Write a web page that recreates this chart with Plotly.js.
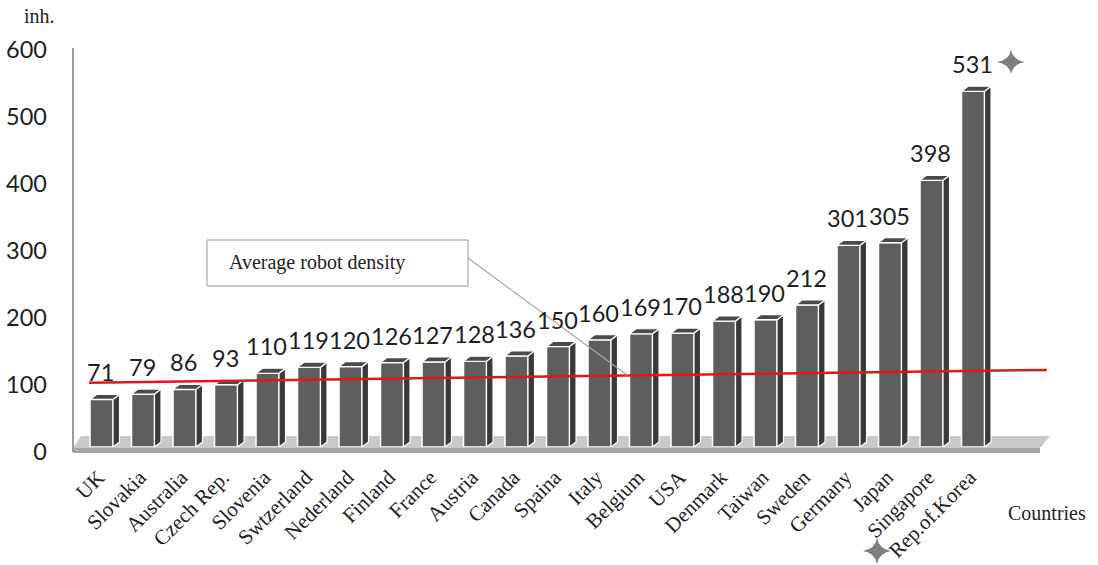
<!DOCTYPE html>
<html>
<head>
<meta charset="utf-8">
<script src="https://cdn.plot.ly/plotly-3.0.1.min.js"></script>
<style>
  html, body { margin: 0; padding: 0; background: #ffffff; }
  #chart { width: 1098px; height: 565px; }
</style>
</head>
<body>
<div id="chart"></div>
<script>
// Robot density per 10 000 employees, by country
const countries = ["UK", "Slovakia", "Australia", "Czech Rep.", "Slovenia", "Swtzerland",
  "Nederland", "Finland", "France", "Austria", "Canada", "Spaina", "Italy", "Belgium",
  "USA", "Denmark", "Taiwan", "Sweden", "Germany", "Japan", "Singapore", "Rep.of.Korea"];
const density = [71, 79, 86, 93, 110, 119, 120, 126, 127, 128, 136, 150, 160, 169,
  170, 188, 190, 212, 301, 305, 398, 531];
const yTicks = [0, 100, 200, 300, 400, 500, 600];
const avgDensity = [96, 115];          // average line, first and last end
const avgLabel = "Average robot density";

// plot geometry (pixels)
const W = 1098, H = 565;
const L = 73, R = 1050, T = 45, B = 447;
const X0 = -0.687, X1 = 22.855;
const Y0 = 0, Y1 = 600;
const px = p => (p - L) / (R - L);     // pixel -> paper x
const py = p => (B - p) / (B - T);     // pixel -> paper y
const dxToPaper = x => (x - X0) / (X1 - X0);

// bar depth for the 3D look
const barW = 0.554;
const depthX = 0.157;
const depthY = 7.5;

const idx = countries.map((_, i) => i);

// side and top faces built from each bar's value
const sideX = [], sideY = [], topX = [], topY = [];
density.forEach((v, i) => {
  const r = i + barW / 2, l = i - barW / 2;
  sideX.push(r, r + depthX, r + depthX, r, r, null);
  sideY.push(0, depthY, v + depthY, v, 0, null);
  topX.push(l, l + depthX, r + depthX, r, l, null);
  topY.push(v, v + depthY, v + depthY, v, v, null);
});

const avgX = [-0.3, countries.length - 1 + 1.78];

const traces = [
  {
    type: "bar", x: idx, y: density, width: barW,
    marker: { color: "#5e5e5e", line: { color: "#ffffff", width: 1.5 } },
    hoverinfo: "skip"
  },
  {
    type: "scatter", mode: "lines", x: sideX, y: sideY, fill: "toself",
    fillcolor: "#393939", line: { color: "#ffffff", width: 1.2 },
    hoverinfo: "skip", connectgaps: false
  },
  {
    type: "scatter", mode: "lines", x: topX, y: topY, fill: "toself",
    fillcolor: "#4a4a4a", line: { color: "#ffffff", width: 1.2 },
    hoverinfo: "skip", connectgaps: false
  },
  {
    type: "scatter", mode: "lines", x: avgX, y: avgDensity,
    line: { color: "#e01818", width: 2.5 }, hoverinfo: "skip", cliponaxis: false
  }
];

// leader from the label box to the average line
const leadX = 12.68;
const leadY = avgDensity[0] + (avgDensity[1] - avgDensity[0]) * (leadX - avgX[0]) / (avgX[1] - avgX[0]);

// four-point star with concave sides, centred on a pixel position
function starPath(cx, cy, rh, rv) {
  const k = 2;
  const P = (x, y) => `${px(x)} ${py(y)}`;
  return `M ${P(cx, cy - rv)} Q ${P(cx + k, cy - k)} ${P(cx + rh, cy)} ` +
         `Q ${P(cx + k, cy + k)} ${P(cx, cy + rv)} ` +
         `Q ${P(cx - k, cy + k)} ${P(cx - rh, cy)} ` +
         `Q ${P(cx - k, cy - k)} ${P(cx, cy - rv)} Z`;
}

const shapes = [
  // floor
  { type: "path", xref: "paper", yref: "paper", layer: "below",
    path: `M ${px(73)} ${py(448)} L ${px(1040)} ${py(448)} L ${px(1050)} ${py(436)} L ${px(81)} ${py(436)} Z`,
    fillcolor: "#c9c9c9", line: { width: 0 } },
  { type: "path", xref: "paper", yref: "paper", layer: "below",
    path: `M ${px(73)} ${py(448)} L ${px(1040)} ${py(448)} L ${px(1040)} ${py(453)} L ${px(73)} ${py(453)} Z`,
    fillcolor: "#a6a6a6", line: { width: 0 } },
  // vertical axis line
  { type: "line", xref: "paper", yref: "paper", layer: "below",
    x0: px(73), x1: px(73), y0: py(48), y1: py(452),
    line: { color: "#9c9c9c", width: 2 } },
  // label box
  { type: "rect", xref: "paper", yref: "paper",
    x0: px(207), x1: px(468), y0: py(286), y1: py(240),
    fillcolor: "#ffffff", line: { color: "#9a9a9a", width: 1 } },
  { type: "line", xref: "paper", yref: "paper",
    x0: px(468), y0: py(258), x1: dxToPaper(leadX), y1: leadY / 600,
    line: { color: "#a8a8a8", width: 1.2 } },
  // decorative stars
  { type: "path", xref: "paper", yref: "paper", path: starPath(1011, 62, 14, 12),
    fillcolor: "#7d7d7d", line: { width: 0 } },
  { type: "path", xref: "paper", yref: "paper", path: starPath(877, 551, 14, 13),
    fillcolor: "#7d7d7d", line: { width: 0 } }
];

const annotations = density.map((v, i) => ({
  x: i, y: v, xref: "x", yref: "y", text: String(v), showarrow: false,
  yanchor: "middle", xanchor: "center", yshift: 27, xshift: -1,
  font: { family: "Lato, 'Open Sans', sans-serif", size: 23.5, color: "#1e1e1e" }
}));

annotations.push(
  { xref: "paper", yref: "paper", x: px(227), y: py(262), xanchor: "left", yanchor: "middle",
    text: avgLabel, showarrow: false,
    font: { family: "'Liberation Serif', 'Times New Roman', serif", size: 20, color: "#222" } },
  { xref: "paper", yref: "paper", x: px(22), y: py(16), xanchor: "left", yanchor: "middle",
    text: "inh.", showarrow: false,
    font: { family: "'Liberation Serif', 'Times New Roman', serif", size: 20, color: "#222" } },
  { xref: "paper", yref: "paper", x: px(1006), y: py(513), xanchor: "left", yanchor: "middle",
    text: "Countries", showarrow: false,
    font: { family: "'Liberation Serif', 'Times New Roman', serif", size: 20, color: "#222" } }
);

const layout = {
  width: W, height: H,
  margin: { l: L, r: W - R, t: T, b: H - B, pad: 0 },
  paper_bgcolor: "#ffffff", plot_bgcolor: "rgba(0,0,0,0)",
  showlegend: false,
  xaxis: {
    range: [X0, X1], tickmode: "array", tickvals: idx, ticktext: countries,
    tickangle: -45, showgrid: false, zeroline: false, showline: false, ticks: "",
    ticklabelstandoff: 13, ticklabelshift: -3,
    tickfont: { family: "'Liberation Serif', 'Times New Roman', serif", size: 21, color: "#222" },
    fixedrange: true
  },
  yaxis: {
    range: [Y0, Y1], tickmode: "array", tickvals: yTicks, ticktext: yTicks.map(String),
    showgrid: false, zeroline: false, showline: false, ticks: "",
    ticklabelstandoff: 25, ticklabelshift: 5,
    tickfont: { family: "Lato, 'Open Sans', sans-serif", size: 23.5, color: "#1e1e1e" },
    fixedrange: true
  },
  shapes: shapes,
  annotations: annotations,
  bargap: 0
};

Plotly.newPlot("chart", traces, layout, { staticPlot: true, displayModeBar: false });
</script>
</body>
</html>
